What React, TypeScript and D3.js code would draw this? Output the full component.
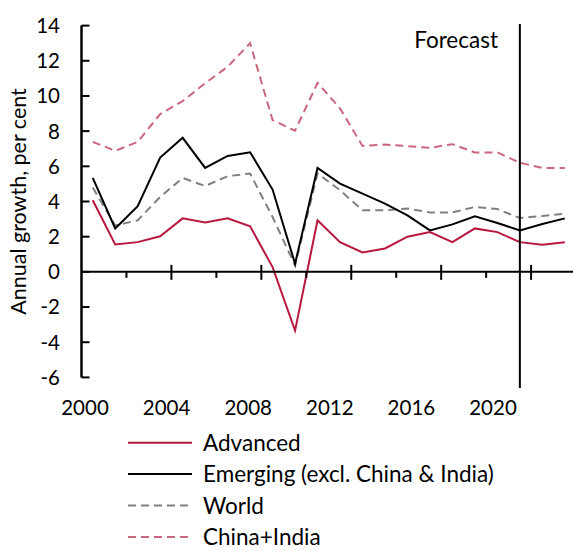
import React from "react";
import * as d3 from "d3";

const years = d3.range(2000, 2022);
const advanced = [4.07, 1.56, 1.69, 2.02, 3.04, 2.81, 3.04, 2.59, 0.27, -3.34, 2.93, 1.69, 1.1, 1.33, 2.0, 2.26, 1.69, 2.47, 2.26, 1.69, 1.54, 1.69];
const emerging = [5.34, 2.47, 3.73, 6.5, 7.62, 5.91, 6.59, 6.8, 4.68, 0.46, 5.91, 5.02, 4.45, 3.88, 3.21, 2.36, 2.7, 3.16, 2.78, 2.36, 2.72, 3.04];
const world = [4.79, 2.64, 2.93, 4.26, 5.34, 4.88, 5.44, 5.59, 3.12, 0.36, 5.59, 4.64, 3.5, 3.5, 3.6, 3.38, 3.38, 3.69, 3.57, 3.06, 3.17, 3.31];
const chinaIndia = [7.39, 6.88, 7.39, 8.97, 9.71, 10.72, 11.66, 13.0, 8.63, 8.02, 10.75, 9.29, 7.16, 7.24, 7.15, 7.05, 7.26, 6.79, 6.79, 6.2, 5.91, 5.91];
const yTicks = [-6, -4, -2, 0, 2, 4, 6, 8, 10, 12, 14];
const xLabels = [2000, 2004, 2008, 2012, 2016, 2020];
const forecastYear = 2019;

const seriesList = [
  { name: "Advanced", values: advanced, color: "#b8173f", dash: null },
  { name: "Emerging (excl. China & India)", values: emerging, color: "#000000", dash: null },
  { name: "World", values: world, color: "#808080", dash: "8,5" },
  { name: "China+India", values: chinaIndia, color: "#c9687c", dash: "8,5" },
];

const FONT = "Lato, 'Open Sans', sans-serif";

export default function App() {
  const W = 573, H = 551;
  const step = 22.48;
  const x0 = 81.5;
  const x = d3.scaleLinear().domain([1999.5, 2021.5]).range([x0, x0 + 22 * step]);
  const y = d3.scaleLinear().domain([-6, 14]).range([377.4, 25.6]);
  const labelX = d3.scaleLinear().domain([2000, 2020]).range([85, 493]);
  const line = d3.line<number>().x((_, i) => x(years[i])).y((d) => y(d));
  const boundaries = d3.range(2001.5, 2021, 2);
  const fsNum = 20.5;
  const fsText = 22.5;

  return (
    <svg width={W} height={H} style={{ position: "absolute", left: 0, top: 0, fontFamily: FONT }}>
      <rect width={W} height={H} fill="#fff" />
      {[...seriesList].reverse().map((s) => (
        <path key={s.name} d={line(s.values) || ""} fill="none" stroke={s.color} strokeWidth={2}
          strokeDasharray={s.dash || undefined} strokeLinejoin="miter" />
      ))}
      <line x1={x0} x2={x0} y1={y(14)} y2={y(-6)} stroke="#000" strokeWidth={2.5} />
      {yTicks.map((t) => (
        <g key={t}>
          <line x1={x0} x2={x0 + 8} y1={y(t)} y2={y(t)} stroke="#000" strokeWidth={2} />
          <text x={60} y={y(t)} dy="0.36em" textAnchor="end" fontSize={fsNum}>{t}</text>
        </g>
      ))}
      <line x1={x0} x2={W} y1={y(0)} y2={y(0)} stroke="#000" strokeWidth={2} />
      {boundaries.map((b, i) => (
        <line key={b} x1={x(b)} x2={x(b)} y1={i % 2 === 1 ? y(0) - 7 : y(0)} y2={y(0) + (i % 2 === 1 ? 8 : 6)}
          stroke="#000" strokeWidth={2} />
      ))}
      {xLabels.map((yr) => (
        <text key={yr} x={labelX(yr)} y={415} textAnchor="middle" fontSize={fsNum}>{yr}</text>
      ))}
      <line x1={x(forecastYear)} x2={x(forecastYear)} y1={24} y2={388} stroke="#000" strokeWidth={2} />
      <text x={498} y={48} textAnchor="end" fontSize={fsText}>Forecast</text>
      <text transform={`translate(25.5,201.5) rotate(-90)`} textAnchor="middle" fontSize={21.5}>Annual growth, per cent</text>
      {seriesList.map((s, i) => {
        const ly = 442.7 + i * 31.4;
        return (
          <g key={s.name}>
            <line x1={128} x2={192} y1={ly} y2={ly} stroke={s.color} strokeWidth={2} strokeDasharray={s.dash || undefined} />
            <text x={203} y={ly} dy="0.36em" fontSize={fsText}>{s.name}</text>
          </g>
        );
      })}
    </svg>
  );
}
